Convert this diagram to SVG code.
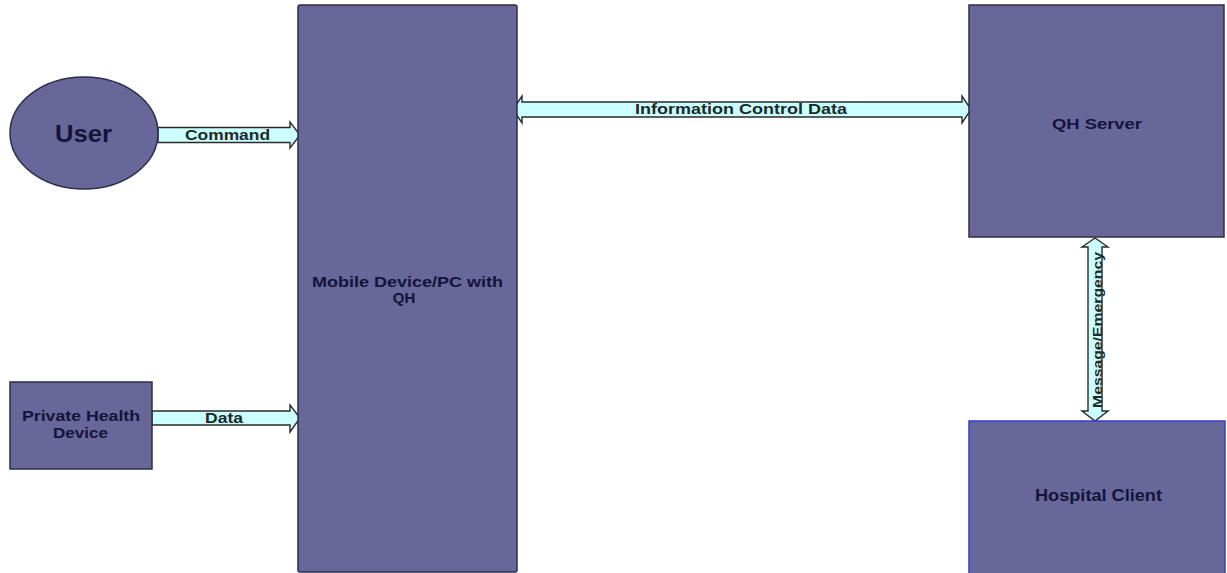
<svg xmlns="http://www.w3.org/2000/svg" width="1227" height="573" viewBox="0 0 1227 573">
  <style>
    .box { fill: #676799; stroke: #2e2e4a; stroke-width: 1.5; }
    .box-blue { fill: #676799; stroke: #3a3ad0; stroke-width: 1.5; }
    .flow { fill: #ccffff; stroke: #2a2a2a; stroke-width: 1.4; stroke-linejoin: miter; }
    .lbl { font-family: "Liberation Sans", Arial, sans-serif; font-weight: bold; fill: #14143a; text-anchor: middle; }
    .flbl { font-family: "Liberation Sans", Arial, sans-serif; font-weight: bold; fill: #1a2a2a; text-anchor: middle; }
  </style>
  <rect width="1227" height="573" fill="#ffffff"/>

  <g id="connectors">
    <!-- User -> Mobile -->
    <g id="cmd">
      <polygon class="flow" points="158,127.5 290,127.5 290,122 300,135 290,148 290,142.5 158,142.5"/>
      <text class="flbl" x="227.5" y="139.5" font-size="14" textLength="85" lengthAdjust="spacingAndGlyphs">Command</text>
    </g>
    <!-- Health device -> Mobile -->
    <g id="data">
      <polygon class="flow" points="152,411 290,411 290,405 300,418 290,432 290,425 152,425"/>
      <text class="flbl" x="224" y="423" font-size="14" textLength="38" lengthAdjust="spacingAndGlyphs">Data</text>
    </g>
    <!-- Mobile <-> Server -->
    <g id="info">
      <polygon class="flow" points="513,109.5 522,96 522,102 962,102 962,96 971,109.5 962,123 962,117 522,117 522,123"/>
      <text class="flbl" x="741" y="114" font-size="15" textLength="212" lengthAdjust="spacingAndGlyphs">Information Control Data</text>
    </g>
    <!-- Server <-> Hospital -->
    <g id="msg">
      <polygon class="flow" points="1095,238 1108,247 1102,247 1102,411 1108,411 1095,421 1082,411 1088,411 1088,247 1082,247"/>
      <text class="flbl" x="1102" y="330" font-size="13.5" textLength="156" lengthAdjust="spacingAndGlyphs" transform="rotate(-90 1102 330)">Message/Emergency</text>
    </g>
  </g>

  <g id="user">
    <ellipse class="box" cx="84" cy="133" rx="74" ry="56"/>
    <text class="lbl" x="83.5" y="142" font-size="24" textLength="57" lengthAdjust="spacingAndGlyphs">User</text>
  </g>

  <g id="health-device">
    <rect class="box" x="10" y="382" width="142" height="87"/>
    <text class="lbl" x="81" y="421" font-size="14" textLength="118" lengthAdjust="spacingAndGlyphs">Private Health</text>
    <text class="lbl" x="80.5" y="438" font-size="14" textLength="55" lengthAdjust="spacingAndGlyphs">Device</text>
  </g>

  <g id="mobile">
    <rect class="box" x="298" y="5" width="219" height="567" rx="2"/>
    <text class="lbl" x="407.5" y="287" font-size="15" textLength="191" lengthAdjust="spacingAndGlyphs">Mobile Device/PC with</text>
    <text class="lbl" x="404" y="303" font-size="15">QH</text>
  </g>

  <g id="server">
    <rect class="box" x="969" y="5" width="255" height="232"/>
    <text class="lbl" x="1097" y="128.5" font-size="15.5" textLength="90" lengthAdjust="spacingAndGlyphs">QH Server</text>
  </g>

  <g id="hospital">
    <rect class="box-blue" x="969" y="421" width="256" height="155"/>
    <text class="lbl" x="1098.5" y="500.5" font-size="16" textLength="127" lengthAdjust="spacingAndGlyphs">Hospital Client</text>
  </g>
</svg>
